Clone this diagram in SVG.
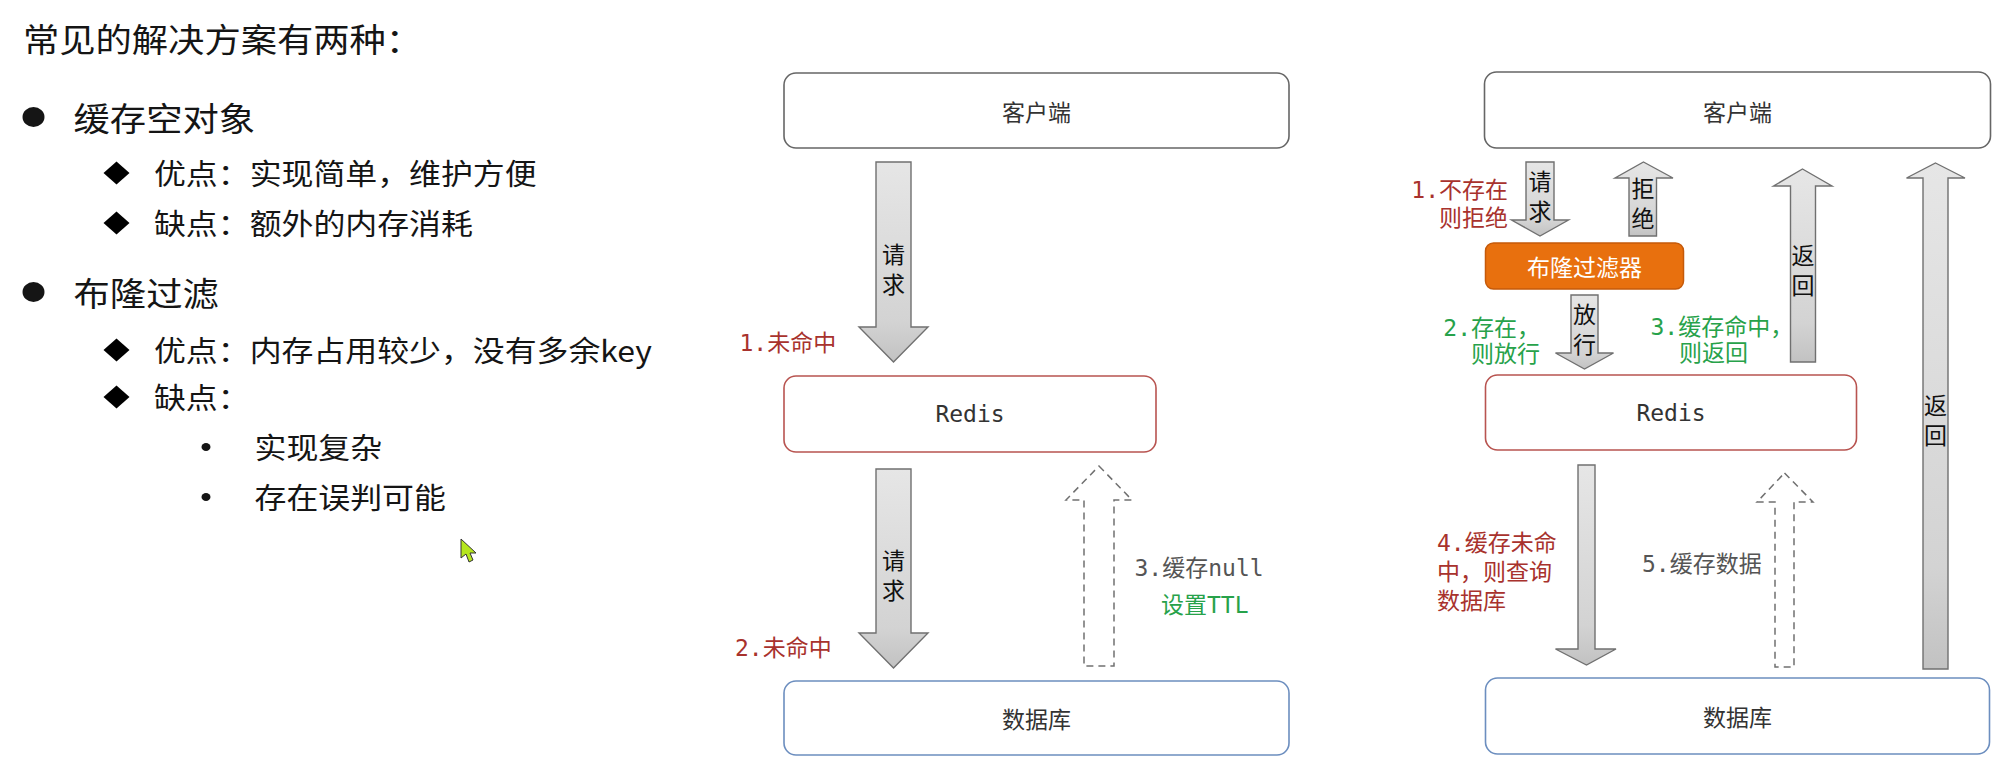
<svg xmlns="http://www.w3.org/2000/svg" width="2001" height="770" viewBox="0 0 2001 770">
<defs>
<linearGradient id="g" x1="0" y1="0" x2="0" y2="1">
<stop offset="0" stop-color="#e6e6e6"/>
<stop offset="0.8" stop-color="#d3d3d3"/>
<stop offset="1" stop-color="#c2c2c2"/>
</linearGradient>
<style>
.cjk{font-family:"Noto Sans CJK SC","Noto Sans",sans-serif;fill:#151515}
.mono{font-family:"DejaVu Sans Mono","Noto Sans CJK SC",monospace;font-size:23px}
.lbl{font-family:"Noto Sans CJK SC",sans-serif;font-size:23px;fill:#111;text-anchor:middle;dominant-baseline:central}
.box{fill:#fff;stroke-width:1.6}
.arr{fill:url(#g);stroke:#707070;stroke-width:1.4;stroke-linejoin:miter}
.dash{fill:#fff;stroke:#707070;stroke-width:1.5;stroke-dasharray:7 5}
.red{fill:#a8322d}
.green{fill:#27a24a}
.gray{fill:#555}
.c{dominant-baseline:central}
</style>
</defs>
<rect width="2001" height="770" fill="#fff"/>

<g id="left-bullets" fill="#151515">
<ellipse cx="33.5" cy="117" rx="11" ry="10"/>
<ellipse cx="33.5" cy="292" rx="11" ry="10"/>
<polygon points="116.5,161.5 129.5,173 116.5,184.5 103.5,173" fill="#000"/>
<polygon points="116.5,211.5 129.5,223 116.5,234.5 103.5,223" fill="#000"/>
<polygon points="116.5,338.5 129.5,350 116.5,361.5 103.5,350" fill="#000"/>
<polygon points="116.5,385.5 129.5,397 116.5,408.5 103.5,397" fill="#000"/>
<ellipse cx="206" cy="447" rx="4.5" ry="4"/>
<ellipse cx="206" cy="497" rx="4.5" ry="4"/>
</g>
<g id="left-text" class="cjk" transform="scale(1.1,1)">
<text x="20.9" y="38" font-size="33" class="c">常见的解决方案有两种：</text>
<text x="66.9" y="117" font-size="33" class="c">缓存空对象</text>
<text x="140" y="173" font-size="29" class="c">优点：实现简单，维护方便</text>
<text x="140" y="223" font-size="29" class="c">缺点：额外的内存消耗</text>
<text x="66.9" y="292" font-size="33" class="c">布隆过滤</text>
<text x="140" y="350" font-size="29" class="c">优点：内存占用较少，没有多余key</text>
<text x="140" y="397" font-size="29" class="c">缺点：</text>
<text x="231.4" y="447" font-size="29" class="c">实现复杂</text>
<text x="231.4" y="497" font-size="29" class="c">存在误判可能</text>
</g>

<g id="cursor">
<polygon points="461,539 461,558 466,554 469,562 473,560 470,553 476,553" fill="#b5e61d" stroke="#333" stroke-width="1"/>
</g>

<!-- Middle diagram -->
<g id="client1">
<rect class="box" x="784" y="73" width="505" height="75" rx="12" stroke="#666"/>
<text class="lbl" x="1036.5" y="111" style="fill:#333">客户端</text>
</g>
<g id="redis1">
<rect class="box" x="784" y="376" width="372" height="76" rx="12" stroke="#b85450"/>
<text class="mono c" x="970" y="414" text-anchor="middle" fill="#333">Redis</text>
</g>
<g id="db1">
<rect class="box" x="784" y="681" width="505" height="74" rx="12" stroke="#6c8ebf"/>
<text class="lbl" x="1036.5" y="718" style="fill:#333">数据库</text>
</g>

<!-- Right diagram -->
<g id="client2">
<rect class="box" x="1484.5" y="72" width="506" height="76" rx="12" stroke="#666"/>
<text class="lbl" x="1737.5" y="111" style="fill:#333">客户端</text>
</g>
<g id="bloom">
<rect x="1485.5" y="243" width="198" height="46" rx="8" fill="#e8700e" stroke="#c55a0a" stroke-width="1.5"/>
<text class="lbl" x="1584.5" y="266" style="fill:#fff">布隆过滤器</text>
</g>
<g id="redis2">
<rect class="box" x="1485.5" y="375" width="371" height="75" rx="12" stroke="#b85450"/>
<text class="mono c" x="1671" y="413" text-anchor="middle" fill="#333">Redis</text>
</g>
<g id="db2">
<rect class="box" x="1485.5" y="678" width="504" height="76" rx="12" stroke="#6c8ebf"/>
<text class="lbl" x="1737.5" y="716" style="fill:#333">数据库</text>
</g>

<g id="connectors">
<!-- middle -->
<polygon class="arr" points="876,162 911,162 911,327 928,327 893.5,362 859,327 876,327"/>
<text class="lbl"><tspan x="893.5" y="253">请</tspan><tspan x="893.5" y="283">求</tspan></text>
<text class="mono c red" x="739.5" y="343">1.未命中</text>

<polygon class="arr" points="876,469 911,469 911,633 928,633 893.5,668 859,633 876,633"/>
<text class="lbl"><tspan x="893.5" y="559">请</tspan><tspan x="893.5" y="589">求</tspan></text>
<text class="mono c red" x="735" y="648">2.未命中</text>

<polygon class="dash" points="1099,466 1132,500 1114,500 1114,666 1084,666 1084,500 1066,500"/>
<text class="mono c gray" x="1134.5" y="568">3.缓存null</text>
<text class="mono c green" x="1161" y="605">设置TTL</text>

<!-- right -->
<polygon class="arr" points="1526,162 1554,162 1554,220 1568.5,220 1540,236 1511.5,220 1526,220"/>
<text class="lbl"><tspan x="1540" y="180">请</tspan><tspan x="1540" y="210">求</tspan></text>
<text class="mono c red" text-anchor="end"><tspan x="1508" y="190">1.不存在</tspan><tspan x="1508" y="218">则拒绝</tspan></text>

<polygon class="arr" points="1643.5,162 1673,178 1656.5,178 1656.5,236 1629,236 1629,178 1615,178"/>
<text class="lbl"><tspan x="1643" y="187">拒</tspan><tspan x="1643" y="217">绝</tspan></text>

<polygon class="arr" points="1571,295 1598,295 1598,353 1613.5,353 1584.5,369 1555.5,353 1571,353"/>
<text class="lbl"><tspan x="1584.5" y="313">放</tspan><tspan x="1584.5" y="343">行</tspan></text>
<text class="mono c green" text-anchor="end"><tspan x="1540" y="328">2.存在，</tspan><tspan x="1540" y="354">则放行</tspan></text>

<polygon class="arr" points="1802.5,169 1832,186 1815.5,186 1815.5,362 1790.5,362 1790.5,186 1773.5,186"/>
<text class="lbl"><tspan x="1803" y="254">返</tspan><tspan x="1803" y="284">回</tspan></text>
<text class="mono c green"><tspan x="1650.5" y="327">3.缓存命中，</tspan><tspan x="1679" y="353">则返回</tspan></text>

<polygon class="arr" points="1935.5,163 1965,178 1948,178 1948,669 1923,669 1923,178 1906.5,178"/>
<text class="lbl"><tspan x="1935.5" y="404">返</tspan><tspan x="1935.5" y="434">回</tspan></text>

<polygon class="arr" points="1578,465 1595,465 1595,649 1616,649 1586.5,665 1555.5,649 1578,649"/>
<text class="mono c red"><tspan x="1437" y="543">4.缓存未命</tspan><tspan x="1437" y="572">中，则查询</tspan><tspan x="1437" y="601">数据库</tspan></text>

<polygon class="dash" points="1784.5,473 1813,502 1794,502 1794,667 1775,667 1775,502 1757,502"/>
<text class="mono c gray" x="1642" y="564">5.缓存数据</text>
</g>
</svg>
